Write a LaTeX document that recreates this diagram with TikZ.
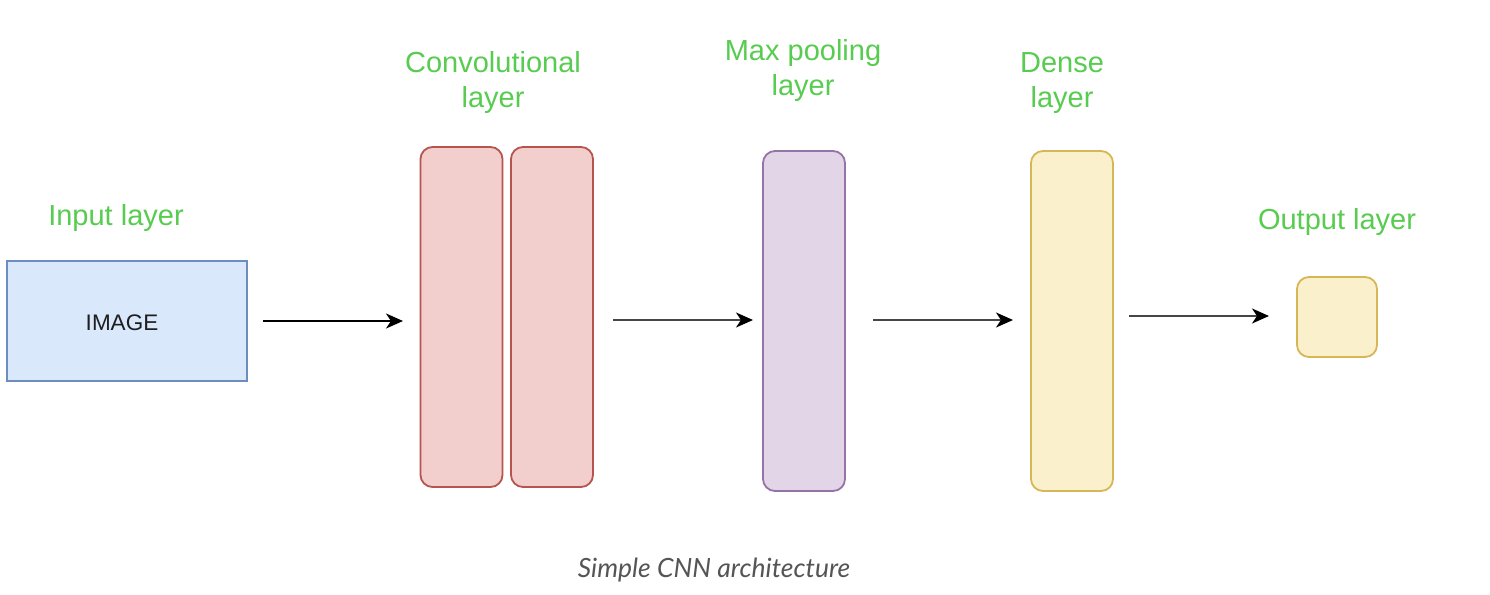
\documentclass[tikz,border=0pt]{standalone}
\usepackage{fontspec}
\setmainfont{Liberation Sans}
\newfontfamily\capfont{Lato}
\usetikzlibrary{arrows.meta}
\definecolor{lblgreen}{RGB}{88,204,80}
\definecolor{inFill}{HTML}{DAE8FC}\definecolor{inDraw}{HTML}{6C8EBF}
\definecolor{cvFill}{HTML}{F2CFCD}\definecolor{cvDraw}{HTML}{B85450}
\definecolor{mpFill}{HTML}{E1D5E7}\definecolor{mpDraw}{HTML}{9673A6}
\definecolor{dnFill}{HTML}{FBF0CC}\definecolor{dnDraw}{HTML}{D6B656}
\definecolor{capgrey}{RGB}{85,85,85}
\definecolor{arrgrey}{RGB}{70,70,70}
\tikzset{
  lbl/.style={text=lblgreen, font=\fontsize{29}{35}\selectfont, align=center},
  layerbox/.style={draw=#1Draw, fill=#1Fill, line width=1.8pt, rounded corners=12pt, minimum width=82pt, minimum height=340pt, inner sep=0pt},
  conn/.style={line width=2.4pt, -{Stealth[length=17pt,width=15pt,inset=5pt,color=black]}},
}
\begin{document}
\begin{tikzpicture}[x=1pt,y=-1pt]
\useasboundingbox[fill=white] (0,0) rectangle (1490,594);
% input
\node[draw=inDraw, fill=inFill, line width=1.8pt, minimum width=240pt, minimum height=120pt, inner sep=0pt] (inp) at (127,321) {};
\node[font=\fontsize{22.5}{26}\selectfont, text={rgb,255:red,30;green,30;blue,30}] (imgtxt) at (122,323) {IMAGE};
\node[lbl] (inlbl) at (116,218) {Input layer};
% conv
\node[layerbox=cv] (cv1) at (461.5,317) {};
\node[layerbox=cv] (cv2) at (552,317) {};
\node[lbl] (cvlbl) at (493,83) {Convolutional\\layer};
% max pool
\node[layerbox=mp] (mp) at (804,321) {};
\node[lbl] (mplbl) at (803,71) {Max pooling\\layer};
% dense
\node[layerbox=dn] (dn) at (1072,321) {};
\node[lbl] (dnlbl) at (1062,83) {Dense\\layer};
% output
\node[draw=dnDraw, fill=dnFill, line width=1.8pt, rounded corners=12pt, minimum width=80pt, minimum height=80pt, inner sep=0pt] (out) at (1337,317) {};
\node[lbl] (outlbl) at (1337,222) {Output layer};
% arrows
\coordinate (a1s) at (263,321); \coordinate (a1e) at (403,321);
\coordinate (a2s) at (613,320); \coordinate (a2e) at (753,320);
\coordinate (a3s) at (873,320); \coordinate (a3e) at (1013,320);
\coordinate (a4s) at (1129,316); \coordinate (a4e) at (1269,316);
\draw[conn, draw=black] (a1s) -- (a1e);
\draw[conn, draw=arrgrey] (a2s) -- (a2e);
\draw[conn, draw=arrgrey] (a3s) -- (a3e);
\draw[conn, draw=arrgrey] (a4s) -- (a4e);
% caption
\node[text=capgrey, font=\capfont\itshape\fontsize{26.5}{31}\selectfont] (cap) at (714,570) {Simple CNN architecture};
\end{tikzpicture}
\end{document}
